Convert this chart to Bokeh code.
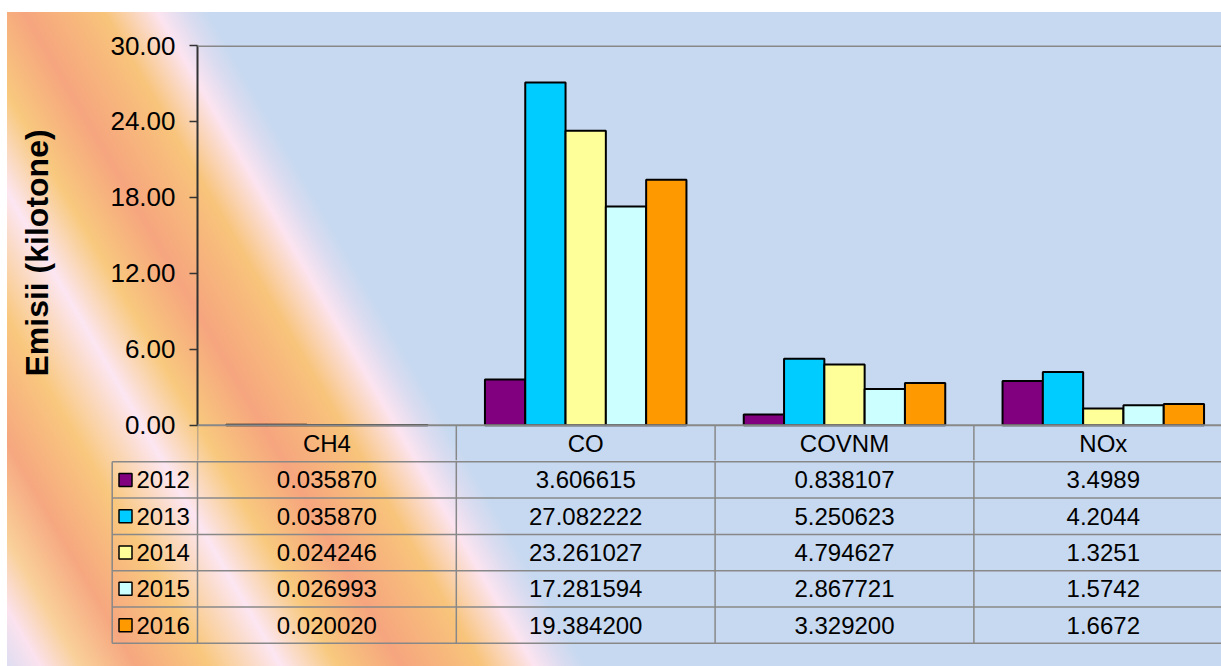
from bokeh.plotting import figure
from bokeh.models import Range1d, FixedTicker, NumeralTickFormatter, Span
from bokeh.layouts import column
from bokeh.embed import file_html
from bokeh.resources import INLINE
from bokeh.core.properties import value

# ---------------- data ----------------
categories = ["CH4", "CO", "COVNM", "NOx"]
years = ["2012", "2013", "2014", "2015", "2016"]
v2012 = [0.035870, 3.606615, 0.838107, 3.4989]
v2013 = [0.035870, 27.082222, 5.250623, 4.2044]
v2014 = [0.024246, 23.261027, 4.794627, 1.3251]
v2015 = [0.026993, 17.281594, 2.867721, 1.5742]
v2016 = [0.020020, 19.384200, 3.329200, 1.6672]
decimals = [6, 6, 6, 4]
y_ticks = [0, 6, 12, 18, 24, 30]
y_label = "Emisii (kilotone)"

# ---------------- style ----------------
series = [v2012, v2013, v2014, v2015, v2016]
colors = ["#800080", "#00ccff", "#ffff99", "#ccffff", "#ff9900"]
FONT = "Liberation Sans"
TXT = "24px"
W = 1221
H = 666
CAT_PX = 258.8
LEFT_PX = 197
TOP_PX = 45
PLOT_H = 380          # 0 .. 30
ROW_PX = 36.3
EXTRA = ROW_PX - 1    # chart frame holds the table's header row
n_vis = (W - LEFT_PX) / CAT_PX
bw = 40.3 / CAT_PX
px_per_unit = PLOT_H / 30.0
y_low = -EXTRA / px_per_unit
hdr_mid = -(ROW_PX / 2) / px_per_unit
grid_col = "#888888"
CHART_H = int(round(TOP_PX + PLOT_H + EXTRA))
TABLE_H = H - CHART_H

GRAD = ("linear-gradient(#ffffff, #ffffff) 0 0 / 100% 12px no-repeat, "
        "linear-gradient(#ffffff, #ffffff) 0 0 / 7px 100% no-repeat, "
        "linear-gradient(60deg, #d8dcf2 0%, #fbe2ee 2.5%, #f9d09a 5%, #f6a77f 8.5%, "
        "#f9c87e 13%, #fce6f2 17.5%, #f8c97e 21%, #f6a57e 25%, #f8c47b 30%, "
        "#fce4f0 33.3%, #dcdcf0 35%, #c6d9f0 36.5%, #c6d9f0 100%)")

# ---------------- chart (with table header row) ----------------
p = figure(width=W, height=CHART_H,
           x_range=Range1d(0, n_vis), y_range=Range1d(y_low, 30),
           output_backend="svg", toolbar_location=None,
           x_axis_location=None, y_axis_location="left",
           min_border_left=LEFT_PX, min_border_right=0,
           min_border_top=TOP_PX, min_border_bottom=0,
           frame_align=False)
p.background_fill_color = None
p.border_fill_color = None
p.outline_line_color = None
p.xgrid.visible = False
p.ygrid.visible = False

for i, vals in enumerate(series):
    xs = [c + 0.5 + (i - 2) * bw for c in range(len(categories))]
    p.vbar(x=xs, top=vals, bottom=0, width=bw, fill_color=colors[i],
           line_color="black", line_width=2)

p.add_layout(Span(location=30, dimension="width", line_color=grid_col, line_width=3))
p.add_layout(Span(location=0, dimension="width", line_color=grid_col, line_width=2))

# header row of the data table
hdr_x = [c for c in range(len(categories)) if c <= n_vis]
p.segment(x0=hdr_x, y0=[0] * len(hdr_x), x1=hdr_x, y1=[y_low] * len(hdr_x),
          line_color=grid_col, line_width=1.5)
p.text(x=[c + 0.5 for c in range(len(categories))], y=[hdr_mid] * len(categories),
       text=categories, text_align="center", text_baseline="middle",
       text_font=value(FONT), text_font_size=value(TXT), text_color="black")

ax = p.yaxis[0]
ax.bounds = (0, 30)
ax.ticker = FixedTicker(ticks=y_ticks)
ax.formatter = NumeralTickFormatter(format="0.00")
ax.major_label_text_font = FONT
ax.major_label_text_font_size = "26px"
ax.major_label_text_color = "black"
ax.major_label_standoff = 14
ax.axis_line_color = "#333333"
ax.axis_line_width = 2
ax.major_tick_line_color = "#333333"
ax.major_tick_line_width = 1.5
ax.major_tick_out = 8
ax.major_tick_in = 0
ax.minor_tick_line_color = None
ax.axis_label = y_label
ax.axis_label_text_font = FONT
ax.axis_label_text_font_size = "32px"
ax.axis_label_text_font_style = "bold"
ax.axis_label_text_color = "black"
ax.axis_label_standoff = 52

# ---------------- data table body ----------------
y_top_rows = (CHART_H - TOP_PX - PLOT_H) / ROW_PX
t = figure(width=W, height=TABLE_H,
           x_range=Range1d(-LEFT_PX / CAT_PX, n_vis),
           y_range=Range1d(y_top_rows + TABLE_H / ROW_PX, y_top_rows),
           output_backend="svg", toolbar_location=None,
           x_axis_location=None, y_axis_location=None,
           min_border_left=0, min_border_right=0,
           min_border_top=0, min_border_bottom=0,
           frame_align=False)
t.background_fill_color = None
t.border_fill_color = None
t.outline_line_color = None
t.xgrid.visible = False
t.ygrid.visible = False

leg_left = (111.7 - 197) / CAT_PX
leg_sq = (125 - 197) / CAT_PX
leg_txt = (136 - 197) / CAT_PX
n_rows = len(years)
right_end = n_vis + 0.1

# horizontal lines
hx0, hx1, hy = [], [], []
for r in range(1, n_rows + 2):
    hx0.append(leg_left); hx1.append(right_end); hy.append(r)
t.segment(x0=hx0, y0=hy, x1=hx1, y1=hy, line_color=grid_col, line_width=1.5)

# vertical lines
vx, vy0, vy1 = [], [], []
for c in range(len(categories) + 1):
    if c <= n_vis:
        vx.append(c); vy0.append(y_top_rows); vy1.append(n_rows + 1)
vx.append(leg_left); vy0.append(1); vy1.append(n_rows + 1)
t.segment(x0=vx, y0=vy0, x1=vx, y1=vy1, line_color=grid_col, line_width=1.5)

# values
tx, ty, tt = [], [], []
for r, vals in enumerate(series):
    for c, v in enumerate(vals):
        tx.append(c + 0.5)
        ty.append(r + 1.5)
        tt.append(f"{v:.{decimals[c]}f}")
t.text(x=tx, y=ty, text=tt, text_align="center", text_baseline="middle",
       text_font=value(FONT), text_font_size=value(TXT), text_color="black")

# legend keys
t.scatter(x=[leg_sq] * n_rows, y=[r + 1.5 for r in range(n_rows)], marker="square",
          size=13, fill_color=colors, line_color="black", line_width=1.5)
t.text(x=[leg_txt] * n_rows, y=[r + 1.5 for r in range(n_rows)], text=years,
       text_align="left", text_baseline="middle",
       text_font=value(FONT), text_font_size=value(TXT), text_color="black")

layout = column(p, t, spacing=0, styles={"background": GRAD})

open("out.html", "w").write(file_html(layout, INLINE))
